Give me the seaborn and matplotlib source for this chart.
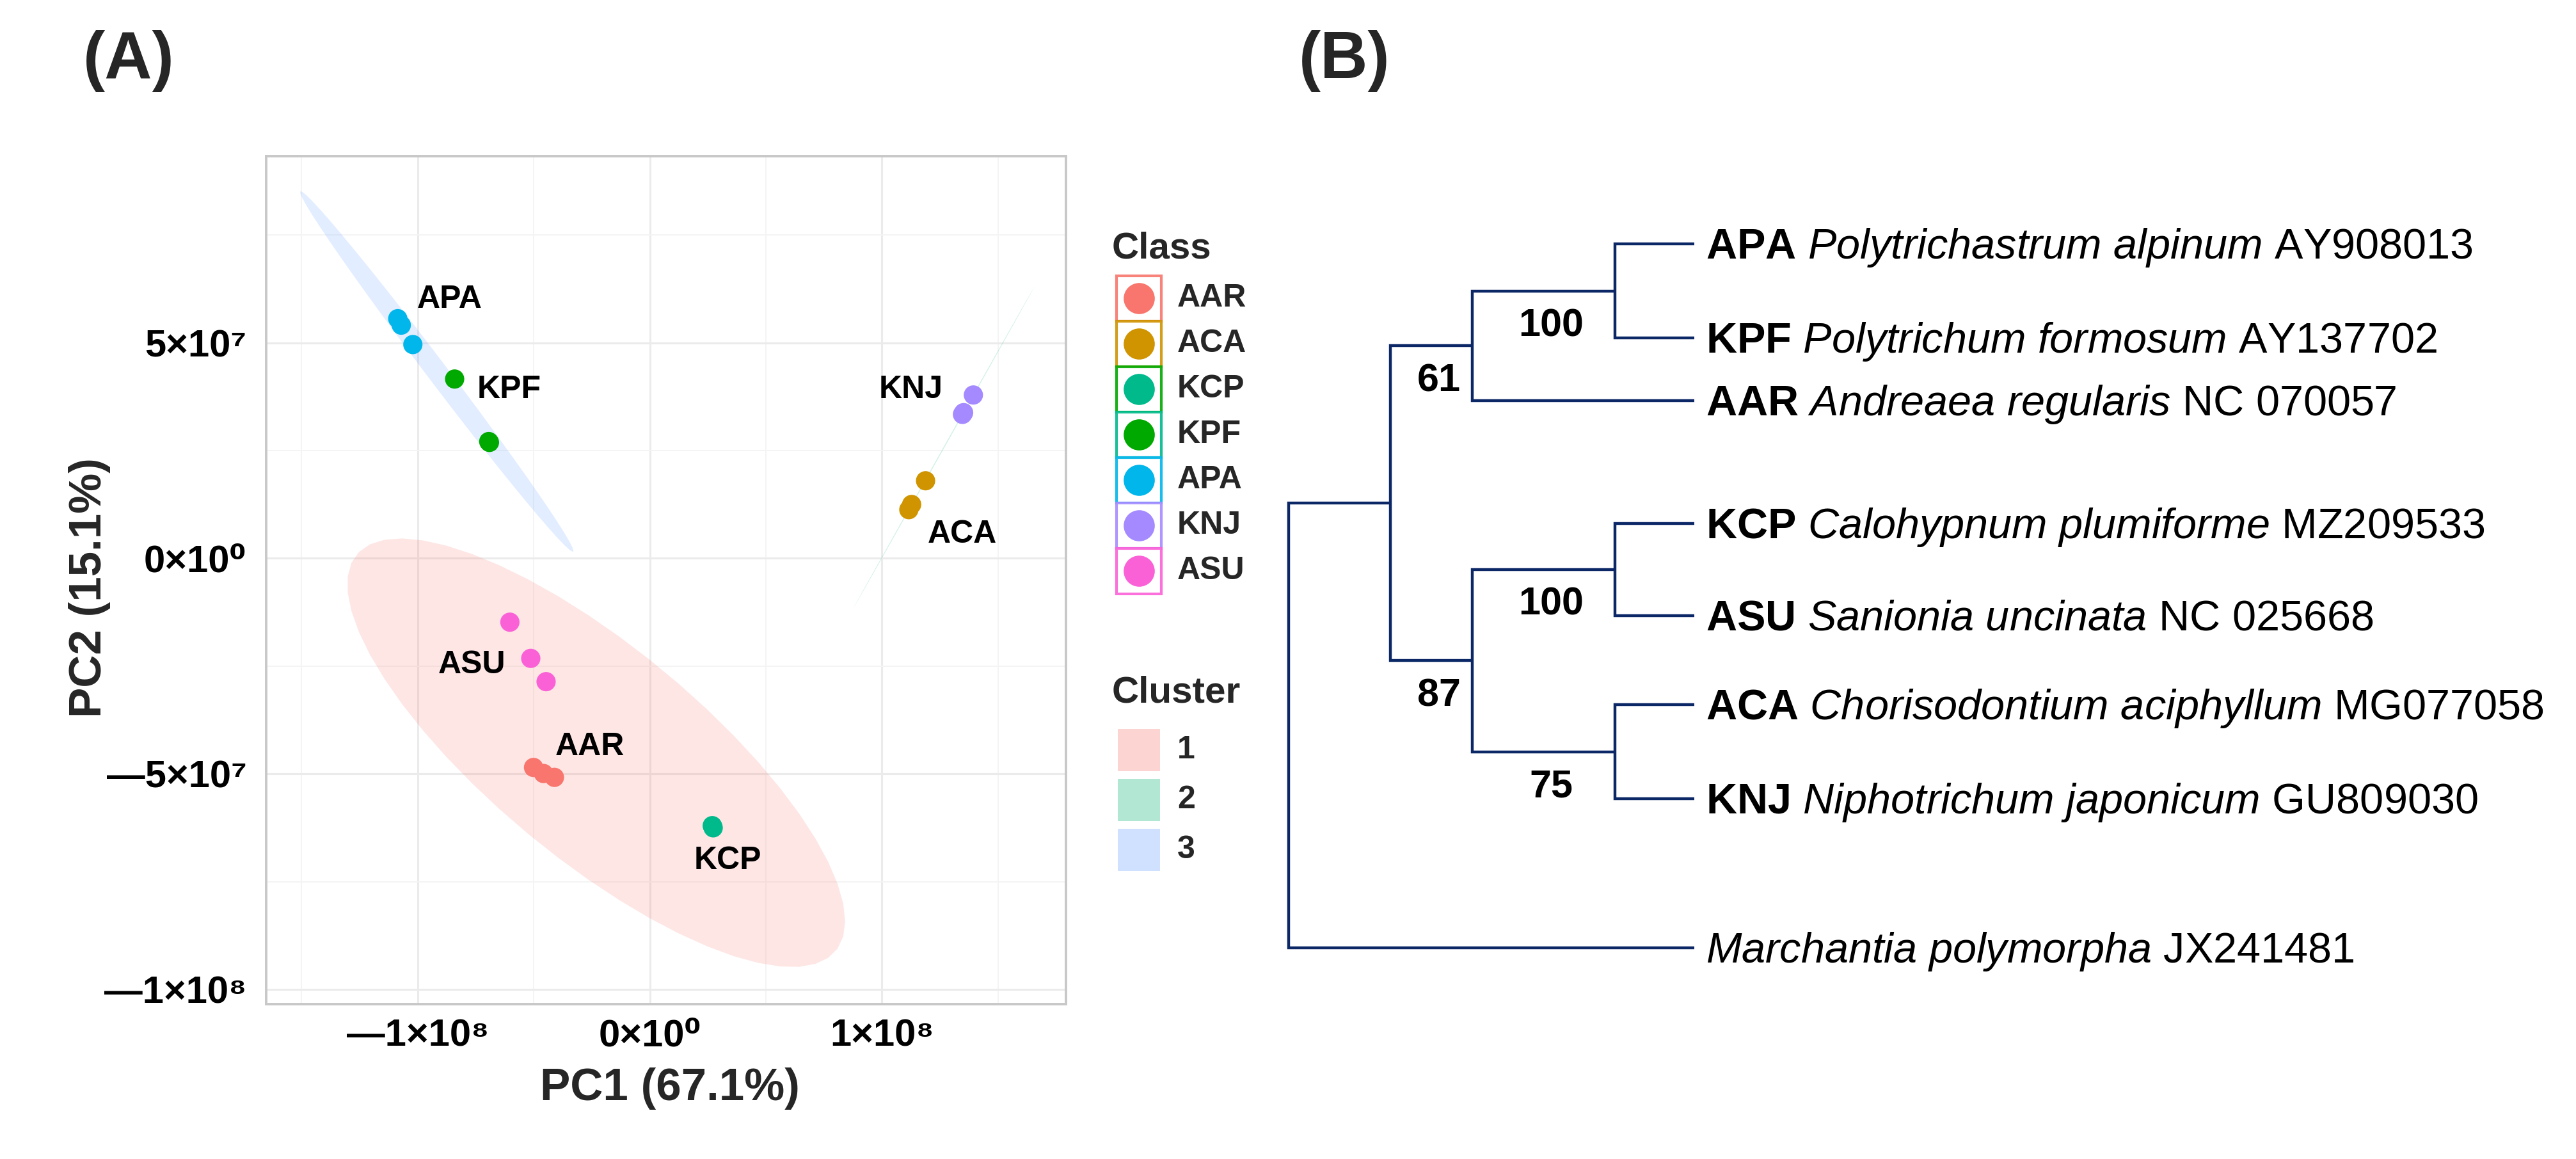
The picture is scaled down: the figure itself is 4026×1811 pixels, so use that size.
import numpy as np
import pandas as pd
import matplotlib
matplotlib.use("Agg")
import matplotlib.pyplot as plt
from matplotlib.patches import Rectangle
from matplotlib.ticker import MultipleLocator
import seaborn as sns

# ---------------- data: panel A (PCA) ----------------
classes = ["AAR", "ACA", "KCP", "KPF", "APA", "KNJ", "ASU"]
class_colors = ["#F8766D", "#CF9400", "#00BA8C", "#00A900", "#00B6EB", "#A58AFF", "#FB61D7"]
key_border_colors = ["#F8766D", "#CF9400", "#00A900", "#00BA8C", "#00B6EB", "#A58AFF", "#FB61D7"]
class_cluster = ["1", "2", "1", "3", "3", "2", "1"]
clusters = ["1", "2", "3"]
cluster_colors = ["#F8766D", "#00B46E", "#619CFF"]

sample_class = (["APA"] * 3 + ["KPF"] * 3 + ["KNJ"] * 3 + ["ACA"] * 3
                + ["ASU"] * 3 + ["AAR"] * 3 + ["KCP"] * 3)
pc1 = [-1.086e8, -1.071e8, -1.021e8,
       -0.841e8, -0.694e8, -0.691e8,
       1.394e8, 1.347e8, 1.352e8,
       1.188e8, 1.128e8, 1.116e8,
       -0.603e8, -0.513e8, -0.447e8,
       -0.501e8, -0.458e8, -0.411e8,
       0.271e8, 0.273e8, 0.269e8]
pc2 = [5.56e7, 5.41e7, 4.96e7,
       4.16e7, 2.71e7, 2.69e7,
       3.79e7, 3.34e7, 3.38e7,
       1.80e7, 1.25e7, 1.13e7,
       -1.48e7, -2.32e7, -2.86e7,
       -4.85e7, -4.99e7, -5.08e7,
       -6.22e7, -6.25e7, -6.20e7]

label_names = ["APA", "KPF", "KNJ", "ACA", "ASU", "AAR", "KCP"]
label_x = [-0.862e8, -0.606e8, 1.126e8, 1.347e8, -0.767e8, -0.257e8, 0.337e8]
label_y = [6.00e7, 3.91e7, 3.91e7, 0.56e7, -2.47e7, -4.37e7, -7.01e7]

x_limits = [-1.653e8, 1.793e8]
y_limits = [-1.034e8, 9.33e7]
x_ticks = [-1e8, 0, 1e8]
x_tick_labels = ["\u20141\u00d710\u2078", "0\u00d710\u2070", "1\u00d710\u2078"]
y_ticks = [-1e8, -5e7, 0, 5e7]
y_tick_labels = ["\u20141\u00d710\u2078", "\u20145\u00d710\u2077", "0\u00d710\u2070", "5\u00d710\u2077"]

# ---------------- data: panel B (tree) ----------------
leaf_ids = ["APA", "KPF", "AAR", "KCP", "ASU", "ACA", "KNJ", "MPO"]
leaf_code = ["APA", "KPF", "AAR", "KCP", "ASU", "ACA", "KNJ", ""]
leaf_species = ["Polytrichastrum alpinum", "Polytrichum formosum", "Andreaea regularis",
                "Calohypnum plumiforme", "Sanionia uncinata", "Chorisodontium aciphyllum",
                "Niphotrichum japonicum", "Marchantia polymorpha"]
leaf_accession = ["AY908013", "AY137702", "NC 070057", "MZ209533", "NC 025668",
                  "MG077058", "GU809030", "JX241481"]
leaf_row = [0.0, 1.0, 1.67, 2.97, 3.95, 4.90, 5.90, 7.48]
tip_depth = 4.88
node_ids = ["n1", "n2", "n3", "n4", "n5", "n6", "root"]
node_children = [("APA", "KPF"), ("n1", "AAR"), ("KCP", "ASU"), ("ACA", "KNJ"),
                 ("n3", "n4"), ("n2", "n5"), ("n6", "MPO")]
node_depth = [3.92, 2.21, 3.92, 3.92, 2.21, 1.22, 0.0]
node_support = ["100", "61", "100", "75", "87", "", ""]

# ---------------- style ----------------
sns.set_style("white")
plt.rcParams["font.family"] = ["Liberation Sans", "DejaVu Sans"]
plt.rcParams["mathtext.fontset"] = "custom"
plt.rcParams["mathtext.rm"] = "Liberation Sans"
plt.rcParams["mathtext.it"] = "Liberation Sans:italic"
plt.rcParams["mathtext.bf"] = "Liberation Sans:bold"

W, H = 4026, 1811
fig = plt.figure(figsize=(W / 100, H / 100), dpi=100)


def px_rect(x0, y0, x1, y1):
    return [x0 / W, 1 - y1 / H, (x1 - x0) / W, (y1 - y0) / H]


def px2pt(v):
    return v * 72.0 / 100.0


# ---------------- ellipse statistic (as ggplot2 stat_ellipse, type "t") ----------------
def cov_trob(x, nu=5, maxit=25, tol=0.01):
    n, p = x.shape
    wt = np.ones(n)
    loc = x.mean(axis=0)
    w = np.sqrt(wt)
    X = x - loc
    for _ in range(maxit):
        w0 = w
        X = x - loc
        sw = np.sqrt(w / w.sum())
        _, d, vt = np.linalg.svd(sw[:, None] * X, full_matrices=False)
        wX = X @ vt.T @ np.diag(1.0 / d)
        Q = (wX ** 2).sum(axis=1)
        w = (wt * (nu + p)) / (nu + Q)
        loc = (w[:, None] * x).sum(axis=0) / w.sum()
        if np.all(np.abs(w - w0) < tol):
            break
    cov = (np.sqrt(w)[:, None] * X).T @ (np.sqrt(w)[:, None] * X) / wt.sum()
    return loc, cov


def stat_ellipse(x, level=0.95, segments=51):
    n = x.shape[0]
    dfd = n - 1
    qf = dfd / 2.0 * ((1 - level) ** (-2.0 / dfd) - 1)
    radius = np.sqrt(2 * qf)
    center, shape = cov_trob(x)
    chol = np.linalg.cholesky(shape).T
    ang = np.linspace(0, 2 * np.pi, segments + 1)
    unit = np.column_stack([np.cos(ang), np.sin(ang)])
    return center + radius * (unit @ chol)


df = pd.DataFrame({"PC1": pc1, "PC2": pc2, "Class": sample_class})
df["Cluster"] = df["Class"].map(dict(zip(classes, class_cluster)))

# ---------------- panel A ----------------
ax = fig.add_axes(px_rect(416, 244, 1666, 1569))
for cl, col in zip(clusters, cluster_colors):
    sub = df[df["Cluster"] == cl][["PC1", "PC2"]].to_numpy()
    ell = stat_ellipse(sub)
    ax.fill(ell[:, 0], ell[:, 1], color=col, alpha=0.18, lw=0, zorder=1)

sns.scatterplot(data=df, x="PC1", y="PC2", hue="Class", hue_order=classes,
                palette=class_colors, s=470, edgecolor="none", linewidth=0,
                legend=False, ax=ax, zorder=3)

for name, lx, ly in zip(label_names, label_x, label_y):
    ax.text(lx, ly, name, ha="center", va="center", fontsize=36,
            fontweight="bold", color="black", zorder=4)

ax.set_xlim(*x_limits)
ax.set_ylim(*y_limits)
ax.set_xticks(x_ticks, labels=x_tick_labels)
ax.set_yticks(y_ticks, labels=y_tick_labels)
ax.xaxis.set_minor_locator(MultipleLocator(5e7))
ax.yaxis.set_minor_locator(MultipleLocator(2.5e7))
ax.grid(which="major", color="#EBEBEB", lw=2.2)
ax.grid(which="minor", color="#F4F4F4", lw=1.4)
ax.set_axisbelow(True)
ax.tick_params(which="major", length=5, width=1.6, color="#B0B0B0",
               labelsize=43, labelcolor="black")
ax.tick_params(axis="x", which="major", pad=11)
ax.tick_params(axis="y", which="major", pad=17)
ax.tick_params(which="minor", length=0)
for t in ax.get_xticklabels() + ax.get_yticklabels():
    t.set_fontweight("bold")
for sp in ax.spines.values():
    sp.set_color("#C8C8C8")
    sp.set_linewidth(2.8)
ax.set_xlabel("PC1 (67.1%)", fontsize=51, fontweight="bold", va="center")
ax.set_ylabel("PC2 (15.1%)", fontsize=51, fontweight="bold", va="center")
ax.xaxis.set_label_coords(0.505, -0.1)
ax.yaxis.set_label_coords(-0.221, 0.491)

# ---------------- legends (own axes, pixel layout) ----------------
lax = fig.add_axes(px_rect(1690, 0, 1990, H))
lax.set_xlim(1690, 1990)
lax.set_ylim(H, 0)
lax.set_axis_off()
lax.text(1738, 389, "Class", fontsize=42, fontweight="bold", va="center", ha="left")
row0, pitch = 466, 71
for i, (name, fc, ec) in enumerate(zip(classes, class_colors, key_border_colors)):
    yc = row0 + i * pitch
    lax.add_patch(Rectangle((1745, yc - pitch / 2), 70, pitch, facecolor="white",
                            edgecolor=ec, lw=3.0, alpha=0.9))
    lax.plot([1780], [yc], "o", ms=35, color=fc, mec="none")
    lax.text(1840, yc, name, fontsize=36, fontweight="bold", va="center", ha="left")

lax.text(1738, 1082, "Cluster", fontsize=42, fontweight="bold", va="center", ha="left")
crow0, cpitch = 1172, 78
for i, (name, col) in enumerate(zip(clusters, cluster_colors)):
    yc = crow0 + i * cpitch
    lax.add_patch(Rectangle((1747, yc - 33), 66, 66, facecolor=col, alpha=0.3, lw=0))
    lax.text(1840, yc, name, fontsize=36, fontweight="bold", va="center", ha="left")

# ---------------- panel B: tree ----------------
tax = fig.add_axes(px_rect(1990, 0, W, H))
tax.set_axis_off()
ux, uy = 130.0, 147.0
tax.set_xlim((1990 - 2014) / ux, (W - 2014) / ux)
tax.set_ylim((H - 381) / uy, (0 - 381) / uy)

pos = {lid: (tip_depth, r) for lid, r in zip(leaf_ids, leaf_row)}
parent = {}
for nid, (c1, c2), d in zip(node_ids, node_children, node_depth):
    pos[nid] = (d, (pos[c1][1] + pos[c2][1]) / 2.0)
    parent[c1] = nid
    parent[c2] = nid

tree_color = "#0B2766"
for nid, (c1, c2) in zip(node_ids, node_children):
    nx, _ = pos[nid]
    xs = [pos[c1][0], nx, nx, pos[c2][0]]
    ys = [pos[c1][1], pos[c1][1], pos[c2][1], pos[c2][1]]
    tax.plot(xs, ys, color=tree_color, lw=3.2, solid_joinstyle="miter",
             solid_capstyle="butt")

for lid, code, sp, acc in zip(leaf_ids, leaf_code, leaf_species, leaf_accession):
    parts = []
    if code:
        parts.append(r"$\mathbf{" + code + "}$")
    parts += [r"$\mathit{" + w + "}$" for w in sp.split()]
    parts.append(acc)
    tax.annotate(" ".join(parts), xy=pos[lid], xytext=(px2pt(18), px2pt(-23)),
                 textcoords="offset points", ha="left", va="baseline",
                 fontsize=48, color="black", annotation_clip=False)

for nid, sup in zip(node_ids, node_support):
    if not sup:
        continue
    px_ = parent[nid]
    mx = (pos[px_][0] + pos[nid][0]) / 2.0
    tax.annotate(sup, xy=(mx, pos[nid][1]), xytext=(px2pt(12), px2pt(-27)),
                 textcoords="offset points", ha="center", va="top",
                 fontsize=44, fontweight="bold", color="black")

# ---------------- panel tags ----------------
fig.text(130 / W, 1 - 122 / H, "(A)", fontsize=74, fontweight="bold", va="baseline", ha="left")
fig.text(2030 / W, 1 - 122 / H, "(B)", fontsize=74, fontweight="bold", va="baseline", ha="left")

fig.savefig("out.png", dpi=100, facecolor="white")
